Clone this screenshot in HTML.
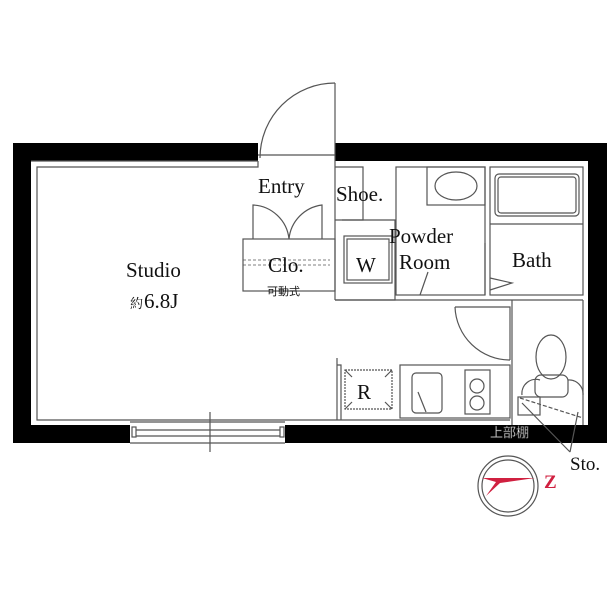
<!DOCTYPE html>
<html><head><meta charset="utf-8"><style>
html,body{margin:0;padding:0;background:#fff;}
svg text{font-family:"Liberation Serif","Noto Serif CJK SC",serif;fill:#111;}
</style></head><body>
<svg width="612" height="600" viewBox="0 0 612 600" xmlns="http://www.w3.org/2000/svg">
<g fill="#000">
<rect x="13" y="143" width="245" height="18"/>
<rect x="335" y="143" width="272" height="18"/>
<rect x="13" y="143" width="18" height="300"/>
<rect x="588" y="143" width="19" height="300"/>
<rect x="13" y="425" width="117" height="18"/>
<rect x="285" y="425" width="322" height="18"/>
</g>
<g fill="none" stroke="#555" stroke-width="1.2">
<path d="M258 161 V167 H37 V420 H335"/>
<path d="M31 161 H258"/>
<path d="M335 83 V161"/>
<path d="M335 83 A75 75 0 0 0 260 158"/>
<path d="M258 155 H335"/>
<path d="M130 422 H285 M130 443 H285 M136 430 H280 M136 436 H280 M210 412 V452"/>
<rect x="132" y="427" width="4" height="10"/><rect x="280" y="427" width="4" height="10"/>
<path d="M335 167 H363 V220 H335"/>
<path d="M335 161 V300"/>
<rect x="243" y="239" width="92" height="52"/>
<path d="M253 239 V205 A38 38 0 0 1 289 239 M322 239 V205 A38 38 0 0 0 289 239"/>
<path d="M243 260 H330 M243 265 H330" stroke-dasharray="3 2" stroke-width="0.8"/>
<rect x="396" y="167" width="89" height="128"/>
<rect x="427" y="167" width="58" height="38"/>
<ellipse cx="456" cy="186" rx="21" ry="14"/>
<path d="M342 220 H395 V300 H335"/>
<rect x="344" y="236" width="48" height="47"/><rect x="347" y="239" width="42" height="41"/>
<path d="M420 295 L428 272"/>
<rect x="490" y="167" width="93" height="128"/>
<rect x="495" y="174" width="84" height="42" rx="4"/><rect x="498" y="177" width="78" height="36" rx="3"/>
<path d="M490 224 H583"/>
<path d="M485 243 V295 M490 278 L512 283 L490 290"/>
<path d="M335 300 H583 M512 300 V425 M583 300 V425"/>
<path d="M455 307 H510 V360 M455 307 A55 55 0 0 0 510 360"/>
<ellipse cx="551" cy="357" rx="15" ry="22"/>
<rect x="535" y="375" width="33" height="22" rx="6"/>
<path d="M522 395 A14 14 0 0 1 540 380 M568 380 A14 14 0 0 1 583 395"/>
<rect x="518" y="397" width="22" height="18"/>
<path d="M520 398 L583 418" stroke-dasharray="4 2"/>
<path d="M335 420 H510 M337 358 V420 M337 365 H341 V420"/>
<rect x="400" y="365" width="110" height="53"/>
<rect x="412" y="373" width="30" height="40" rx="4"/>
<path d="M418 392 L426 412"/>
<rect x="465" y="370" width="25" height="44"/>
<circle cx="477" cy="386" r="7"/><circle cx="477" cy="403" r="7"/>
<rect x="345" y="370" width="47" height="39" stroke-dasharray="2 1"/>
<path d="M345 370 L352 377 M392 370 L385 377 M345 409 L352 402 M392 409 L385 402"/>
<path d="M522 403 L570 452 M578 412 L570 452"/>
<circle cx="508" cy="486" r="30"/><circle cx="508" cy="486" r="26"/>
</g>
<path d="M482 478 L535 478 L500 483 L486 496 L496 482 Z" fill="#d02040"/>
<text x="544" y="488" font-size="19" font-weight="bold" style="fill:#d02040">Z</text>
<text x="126" y="277" font-size="21">Studio</text>
<text x="130" y="308" font-size="13">約</text><text x="144" y="308" font-size="21">6.8J</text>
<text x="258" y="193" font-size="21">Entry</text>
<text x="336" y="201" font-size="21">Shoe.</text>
<text x="268" y="272" font-size="21">Clo.</text>
<text x="267" y="295" font-size="11" style="font-family:'Noto Sans CJK JP',sans-serif">可動式</text>
<text x="356" y="272" font-size="21">W</text>
<text x="389" y="243" font-size="21">Powder</text>
<text x="399" y="269" font-size="21">Room</text>
<text x="512" y="267" font-size="21">Bath</text>
<text x="357" y="399" font-size="21">R</text>
<text x="490" y="437" font-size="13" style="fill:#fff;font-family:'Noto Sans CJK JP',sans-serif" stroke="#444" stroke-width="0.5">上部棚</text>
<text x="570" y="470" font-size="19">Sto.</text>
</svg>
</body></html>
